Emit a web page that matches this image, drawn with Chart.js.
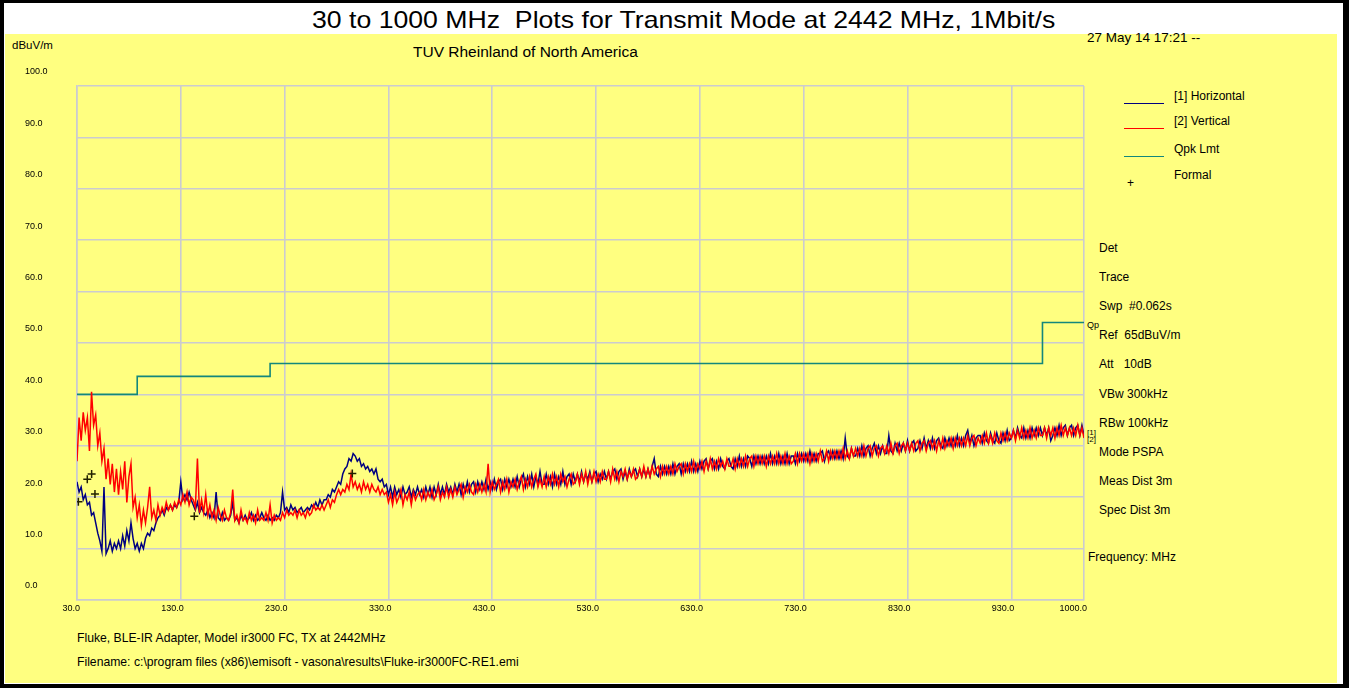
<!DOCTYPE html>
<html>
<head>
<meta charset="utf-8">
<script src="https://cdn.jsdelivr.net/npm/chart.js@4.4.1/dist/chart.umd.min.js"></script>
<style>
  body { margin: 0; background: #000; width: 1349px; height: 688px; overflow: hidden; position: relative; }
  #frame { position: absolute; left: 4px; top: 3px; width: 1339px; height: 681px; background: #fff; }
  #panel { position: absolute; left: 5px; top: 34px; width: 1332px; height: 649px; background: #ffff80; }
  #chart { position: absolute; left: 0; top: 0; }
  .t { position: absolute; white-space: pre; font-family: Arial, 'Liberation Sans', sans-serif;
       font-size: 12px; line-height: 14px; color: #000; }
  .key { position: absolute; left: 1124px; width: 40px; height: 0; border-top: 1.5px solid; }
</style>
</head>
<body>
<div id="frame"></div>
<div id="panel"></div>

<div class="t" style="left:312px; top:6px; font-size:24px; line-height:27px; transform:scaleX(1.11); transform-origin:0 0;">30 to 1000 MHz  Plots for Transmit Mode at 2442 MHz, 1Mbit/s</div>
<div class="t" style="left:12px; top:38px; font-size:11.5px;">dBuV/m</div>
<div class="t" style="left:413px; top:44px; font-size:15.5px; line-height:16px;">TUV Rheinland of North America</div>
<div class="t" style="left:1087px; top:31px; font-size:13.5px;">27 May 14 17:21 --</div>

<div id="legend"></div>
<div id="info"></div>

<div class="t" style="left:1087px; top:320px; font-size:9px; line-height:10px;">Qp</div>
<div class="t" style="left:1087px; top:428px; font-size:8px; line-height:9px;">[1]</div>
<div class="t" style="left:1087px; top:435px; font-size:8px; line-height:9px;">[2]</div>
<div class="t" style="left:1088px; top:550px;">Frequency: MHz</div>

<div class="t" style="left:77px; top:631px; font-size:12.2px;">Fluke, BLE-IR Adapter, Model ir3000 FC, TX at 2442MHz</div>
<div class="t" style="left:77px; top:655px; font-size:12.2px;">Filename: c:\program files (x86)\emisoft - vasona\results\Fluke-ir3000FC-RE1.emi</div>

<canvas id="chart" width="1349" height="688"></canvas>

<script>
// barrido: 30 MHz a 1000 MHz, una lectura cada 2 MHz
const freqStart = 30;
const freqStep = 2;

// [2] Vertical (rojo), 15 lecturas por fila = 30 MHz por fila
const vertical = [
  27, 35.5, 31, 36.5, 33, 35.5, 29, 40.5, 34, 36, 30, 32.5, 27, 29.5, 23.5,
  27.5, 22.5, 26.5, 21, 25.5, 20.5, 25, 21.5, 27, 19, 24, 26.5, 18, 20, 16,
  18.5, 14.5, 17.5, 15, 18, 22, 16, 17.5, 15.5, 18.5, 16.5, 18, 17, 19, 17.5,
  18.5, 17.5, 19, 18, 19.5, 18.5, 20.5, 19, 21, 18.5, 20, 19.5, 18, 27.5, 17,
  19.5, 17, 20.5, 16.5, 18.5, 16, 17.5, 15.5, 18, 16.5, 15.5, 17.5, 16, 15.5, 17,
  21.5, 15.5, 16.5, 15, 17.5, 15.5, 16, 15, 17, 15.5, 16.5, 15, 17.5, 15.5, 16,
  15.5, 17, 15.5, 18.5, 15, 16.5, 15.5, 16, 15.5, 17, 16, 17.5, 16.5, 17, 16.5,
  17.5, 16, 17.5, 16.5, 17, 16, 17.5, 16.5, 17, 18.5, 17.5, 18, 17.5, 18.5, 17.5,
  18.5, 19.5, 18, 19.5, 19, 20.5, 21.5, 20.5, 21.5, 21, 22.5, 21.5, 24.5, 22, 23,
  21.5, 22.5, 21, 23, 21.5, 22.5, 21, 22.5, 21.5, 21, 22, 20.5, 21.5, 20.5, 21,
  19, 20.5, 18.5, 21, 19, 20, 21.5, 18.5, 20.5, 19.5, 21, 18.5, 21, 19.5, 20.5,
  21, 19.5, 21.5, 19.5, 21, 20, 21.5, 19.5, 20.5, 22, 19.5, 21, 20, 22, 20,
  21.5, 20, 22, 20.5, 21.5, 22.5, 20, 22, 21, 22.5, 21, 20.5, 22.5, 21, 22.5,
  21, 22.5, 21, 26.5, 21, 23, 21.5, 22.5, 23.5, 21, 23, 21.5, 23.5, 21, 23,
  22, 23.5, 21.5, 23, 24, 21.5, 23.5, 22, 24, 22, 23.5, 24.5, 22, 23.5, 22,
  24, 22, 24, 22.5, 24.5, 22.5, 24, 22, 24.5, 23, 24, 22, 23.5, 24.5, 22.5,
  23, 24.5, 22.5, 24.5, 23, 25, 22.5, 24.5, 23, 25, 23, 24.5, 23, 25, 23.5,
  23.5, 25, 23, 25.5, 23.5, 25, 23, 25, 24, 25.5, 23.5, 25, 24, 25.5, 23.5,
  24, 25.5, 24, 26, 24, 25.5, 24, 26, 24.5, 25.5, 26, 24, 26, 24.5, 26,
  24.5, 26, 24.5, 26.5, 25, 26, 26.5, 24.5, 26.5, 25, 26.5, 25, 27, 25, 26.5,
  25.5, 27, 25, 27, 25.5, 27.5, 25.5, 27, 25.5, 27.5, 26, 27, 25.5, 27.5, 26,
  26, 27.5, 25.5, 27.5, 26, 27.5, 26, 28, 26, 27.5, 28, 26, 28, 26.5, 28,
  26.5, 28, 26, 28, 26.5, 28, 26.5, 28.5, 26.5, 28, 26.5, 28.5, 26.5, 28, 26.5,
  27, 28.5, 26.5, 28.5, 27, 28.5, 27, 28.5, 26.5, 28.5, 27, 28.5, 27, 29, 27,
  27.5, 29, 27, 29, 27.5, 29, 27.5, 29, 27.5, 29.5, 27.5, 29, 27.5, 29.5, 28,
  29.5, 28, 29.5, 28, 30, 28, 29.5, 30, 28, 29.5, 30, 28, 29.5, 30, 28.5,
  30, 28.5, 30.5, 28.5, 30, 30.5, 28.5, 30, 30.5, 29, 30.5, 29, 30.5, 29, 30.5,
  31, 29, 30.5, 31, 29, 30.5, 31, 29.5, 31, 29, 31, 29.5, 31.5, 29.5, 31,
  30, 31.5, 29.5, 31.5, 30, 31.5, 30, 31.5, 30, 32, 30, 31.5, 32, 30, 31.5,
  30.5, 32, 30.5, 32.5, 30.5, 32, 30.5, 32.5, 31, 30.5, 32.5, 31, 32.5, 31, 32.5,
  31.5, 33, 31, 33, 31.5, 33.5, 31.5, 33, 31.5, 33.5, 31.5, 33, 31.5, 33.5, 32,
  32, 33.5, 31.5, 33.5, 32, 33.5, 31.5, 33.5, 32, 34, 32, 33.5, 32, 33.5, 32,
  33.5, 32, 34, 32, 33.5, 31.5
];

// [1] Horizontal (azul marino)
const horizontal = [
  23, 21, 22, 19.5, 20.5, 18.5, 19, 16.5, 17, 15, 13, 11.5, 9.5, 22, 9,
  10, 11.5, 9.5, 11, 10, 11.5, 10, 12.5, 10.5, 13.5, 11.5, 15, 12, 10, 11,
  9.5, 11, 10, 12, 13, 12.5, 14, 13.5, 15, 16, 16.5, 17.5, 16.5, 18, 17.5,
  18.5, 17.5, 18.5, 18, 19, 23, 19.5, 20.5, 19.5, 21, 19.5, 18.5, 17.5, 19, 17,
  18, 17, 16.5, 17.5, 16, 17, 16, 21, 16, 15.5, 17, 15.5, 16, 15.5, 16.5,
  19, 15.5, 16, 15, 16.5, 15.5, 16.5, 15.5, 16, 17, 15.5, 16.5, 15.5, 16, 17,
  16, 15.5, 16.5, 15.5, 16, 15.5, 16.5, 16, 17, 21, 17.5, 18, 17, 18.5, 17.5,
  18, 17, 17.5, 18, 17, 17.5, 18, 17.5, 18.5, 18, 19, 18, 19.5, 18.5, 19.5,
  19.5, 20.5, 20, 21.5, 21, 22, 23, 22.5, 24.5, 25.5, 26, 27.5, 27, 28.5, 28,
  27, 27.5, 26, 26.5, 25.5, 26, 25, 25.5, 24.5, 25.5, 23.5, 23, 23.5, 22, 22.5,
  20.5, 22, 20, 22, 20.5, 21.5, 20, 22, 20.5, 21, 22, 20, 21.5, 20.5, 22,
  20.5, 21.5, 20, 22, 20.5, 22, 20, 22, 20.5, 22.5, 20.5, 22, 20.5, 22.5, 21,
  22, 20.5, 22.5, 21, 22.5, 20.5, 22.5, 21, 23, 21, 22.5, 23, 21, 23, 21.5,
  23, 21.5, 23.5, 21.5, 23, 21.5, 23.5, 21.5, 23, 23.5, 21.5, 23.5, 22, 23.5, 22,
  23.5, 22, 24, 22, 23.5, 24.5, 22, 24, 22.5, 24.5, 22, 24, 22.5, 25, 22.5,
  22.5, 24.5, 22.5, 24, 22, 24.5, 22.5, 24, 22.5, 25, 22.5, 24, 24.5, 22.5, 24.5,
  23, 24.5, 23, 25, 23, 24.5, 23.5, 25, 23, 24.5, 25, 23, 24.5, 23.5, 25,
  23.5, 25, 23.5, 25, 25.5, 23.5, 25, 25.5, 23.5, 25, 23.5, 25.5, 24, 25, 25.5,
  24, 25.5, 24, 25.5, 24, 25.5, 24, 26, 27.5, 24.5, 24, 26, 24.5, 26, 24.5,
  26, 24.5, 26.5, 24.5, 26, 26.5, 24.5, 26.5, 25, 26.5, 25, 27, 25, 26.5, 25,
  27, 25.5, 27, 27.5, 25.5, 27, 27.5, 25.5, 27, 25.5, 27.5, 26, 25.5, 27, 27.5,
  26, 25.5, 27.5, 26, 28, 26, 27.5, 26, 28, 27.5, 26, 28, 26.5, 28, 26.5,
  28, 26.5, 28, 26.5, 28.5, 26.5, 28, 26.5, 28.5, 26.5, 28, 26.5, 28.5, 26.5, 28,
  28, 26.5, 28.5, 27, 28.5, 27, 28.5, 27, 29, 27, 28.5, 27, 28.5, 28.5, 29,
  27, 28.5, 29, 27.5, 29, 27.5, 29, 27.5, 29, 27.5, 31.5, 28, 27.5, 29.5, 28,
  28, 29.5, 28, 30, 28, 29.5, 30, 28, 29.5, 30.5, 28.5, 30, 28.5, 30, 28.5,
  28.5, 32, 29, 28.5, 30.5, 29, 30.5, 29, 30.5, 29, 31, 29, 30.5, 31, 29,
  29.5, 31, 29.5, 31.5, 29.5, 31, 29.5, 31.5, 29.5, 31, 31.5, 30, 29.5, 31.5, 30,
  31.5, 30, 31.5, 30, 32, 30, 31.5, 30, 32, 33, 30.5, 32, 30, 31.5, 32,
  32, 30.5, 32.5, 31, 30.5, 32.5, 31, 30.5, 32.5, 31, 30.5, 32.5, 31, 33, 31,
  31.5, 33, 31.5, 33.5, 32, 31.5, 33.5, 31.5, 33, 31.5, 33.5, 32, 33.5, 32, 33.5,
  32, 33.5, 32, 33.5, 31, 32, 33.5, 32, 34, 32, 33.5, 34, 32, 33.5, 34,
  32, 33.5, 34, 32, 34, 32
];

// límite Qpk (FCC clase B, 3 m)
const limitFreqs = [30, 88, 216, 960, 1000];
const limitLevels = [40, 43.5, 46, 54, 54];

// lecturas "Formal" (cuasi-pico)
const formalFreqs = [31.3, 39.9, 44.1, 47.3, 143, 295.2];
const formalLevels = [19.1, 23.5, 24.5, 20.6, 16.3, 24.6];

// ejes
const xTicks = [30, 130, 230, 330, 430, 530, 630, 730, 830, 930, 1000];
const yMin = 0, yMax = 100, yStep = 10;

const infoLines = ['Det', 'Trace', 'Swp  #0.062s', 'Ref  65dBuV/m', 'Att   10dB',
  'VBw 300kHz', 'RBw 100kHz', 'Mode PSPA', 'Meas Dist 3m', 'Spec Dist 3m'];

const navy = '#000080';
const red = '#ff0000';
const teal = '#13877c';
const gridColor = '#cbcbd0';

// texto de la derecha
const info = document.getElementById('info');
infoLines.forEach((txt, i) => {
  const d = document.createElement('div');
  d.className = 't';
  d.style.left = '1099px';
  d.style.top = (241 + i * 29.1) + 'px';
  d.textContent = txt;
  info.appendChild(d);
});

const toPoints = (vals) => vals.map((v, i) => ({ x: freqStart + i * freqStep, y: v }));

const chart = new Chart(document.getElementById('chart'), {
  type: 'line',
  data: {
    datasets: [
      {
        label: '[2] Vertical',
        data: toPoints(vertical),
        borderColor: red,
        borderWidth: 1.5,
        pointRadius: 0,
        tension: 0,
        order: 1
      },
      {
        label: '[1] Horizontal',
        data: toPoints(horizontal),
        borderColor: navy,
        borderWidth: 1.5,
        pointRadius: 0,
        tension: 0,
        order: 2
      },
      {
        label: 'Qpk Lmt',
        data: limitFreqs.map((f, i) => ({ x: f, y: limitLevels[i] })),
        borderColor: teal,
        borderWidth: 1.6,
        pointRadius: 0,
        stepped: 'before',
        order: 3
      },
      {
        label: 'Formal',
        data: formalFreqs.map((f, i) => ({ x: f, y: formalLevels[i] })),
        showLine: false,
        pointStyle: 'cross',
        pointRadius: 4,
        borderColor: '#222200',
        borderWidth: 1.5,
        order: 0
      }
    ]
  },
  options: {
    responsive: false,
    animation: false,
    layout: { padding: { left: 25, top: 86, right: 265, bottom: 0 } },
    plugins: {
      legend: { display: false },
      tooltip: { enabled: false }
    },
    scales: {
      x: {
        type: 'linear',
        min: xTicks[0],
        max: xTicks[xTicks.length - 1],
        afterBuildTicks: (s) => { s.ticks = xTicks.map(v => ({ value: v })); },
        afterFit: (s) => { s.height = 88; },
        grid: { color: gridColor, lineWidth: 1.6, drawTicks: false },
        border: { color: gridColor, width: 1.6 },
        ticks: {
          autoSkip: false,
          maxRotation: 0,
          align: 'end',
          labelOffset: 3,
          padding: 3,
          color: '#000',
          font: { family: 'Arial, "Liberation Sans", sans-serif', size: 9 },
          callback: (v) => Number(v).toFixed(1)
        }
      },
      y: {
        min: yMin,
        max: yMax,
        afterFit: (s) => { s.width = 52; },
        grid: { color: gridColor, lineWidth: 1.6, drawTicks: false },
        border: { color: gridColor, width: 1.6 },
        ticks: {
          stepSize: yStep,
          crossAlign: 'far',
          labelOffset: -14,
          color: '#000',
          font: { family: 'Arial, "Liberation Sans", sans-serif', size: 9 },
          callback: (v) => Number(v).toFixed(1)
        }
      }
    }
  }
});

// leyenda (HTML, tomando etiquetas y colores de los datasets)
const legend = document.getElementById('legend');
const legendOrder = [1, 0, 2, 3];
const legendY = [96, 121, 149, 175];
legendOrder.forEach((idx, i) => {
  const ds = chart.data.datasets[idx];
  const lbl = document.createElement('div');
  lbl.className = 't';
  lbl.style.left = '1174px';
  lbl.style.top = (legendY[i] - 7) + 'px';
  lbl.textContent = ds.label;
  legend.appendChild(lbl);
  if (ds.showLine === false) {
    const plus = document.createElement('div');
    plus.className = 't';
    plus.style.left = '1127px';
    plus.style.top = (legendY[i] + 1) + 'px';
    plus.textContent = '+';
    legend.appendChild(plus);
  } else {
    const key = document.createElement('div');
    key.className = 'key';
    key.style.top = (legendY[i] + 7) + 'px';
    key.style.borderColor = ds.borderColor;
    legend.appendChild(key);
  }
});
</script>
</body>
</html>
